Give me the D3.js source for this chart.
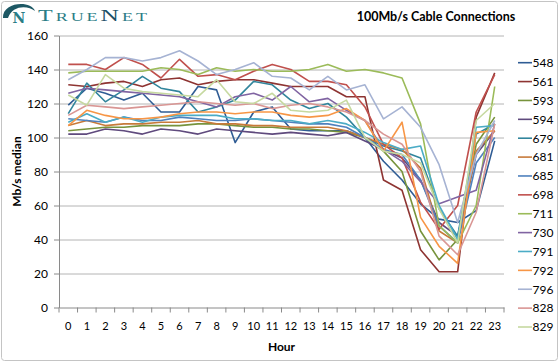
<!DOCTYPE html>
<html>
  <head>
    <meta charset="utf-8">
    <title>100Mb/s Cable Connections</title>
    <script src="https://cdn.jsdelivr.net/npm/d3@7"></script>
    <style>
      body { margin: 0; background: #fff; }
      svg { display: block; font-family: Lato, "Open Sans", sans-serif; }
      .grid line { stroke: #b4b4b4; }
      .grid .domain { display: none; }
      .axis path, .axis line { stroke: #8a8a8a; }
      .axis text { fill: #000; font-size: 11.5px; font-family: Lato, sans-serif; }
      .series { fill: none; stroke-width: 1.6; stroke-linejoin: round; }
      .legend text { font-size: 12px; fill: #000; }
    </style>
  </head>
  <body>
    <svg id="chart" width="560" height="363"></svg>
    <script>
      // data
      hours = [0, 1, 2, 3, 4, 5, 6, 7, 8, 9, 10, 11, 12, 13, 14, 15, 16, 17, 18, 19, 20, 21, 22, 23];
      yTicks = [0, 20, 40, 60, 80, 100, 120, 140, 160];
      names = ["548", "561", "593", "594", "679", "681", "685", "698", "711", "730", "791", "792", "796", "828", "829"];
      colours = ["#2f5c94", "#8e3432", "#77933c", "#5f4a7d", "#31859c", "#c77a3a", "#4f81bd", "#c0504d",
        "#9bbb59", "#8064a2", "#4bacc6", "#f79646", "#a6b3d3", "#d99694", "#c6d9a0"];
      v548 = [119, 129, 126, 122, 126, 115, 115, 130, 128, 97, 115, 118, 105, 104, 104, 104, 100, 86, 75, 61, 52, 50, 57, 98];
      v561 = [131, 130, 132, 133, 130, 134, 135, 131, 133, 134, 134, 132, 130, 130, 130, 124, 124, 75, 69, 34, 21, 21, 112, 138];
      v593 = [104, 105, 106, 106, 107, 107, 107, 108, 108, 107, 106, 106, 105, 105, 104, 103, 100, 92, 80, 45, 28, 40, 96, 112];
      v594 = [102, 102, 105, 104, 102, 105, 104, 102, 105, 104, 103, 102, 103, 102, 101, 103, 98, 93, 88, 75, 50, 42, 90, 104];
      v679 = [114, 132, 121, 128, 136, 129, 127, 115, 118, 122, 133, 131, 122, 117, 120, 112, 100, 95, 92, 88, 58, 42, 102, 108];
      v681 = [107, 110, 107, 108, 108, 109, 109, 110, 108, 108, 107, 107, 106, 106, 106, 104, 100, 96, 93, 82, 45, 38, 92, 104];
      v685 = [111, 110, 109, 112, 110, 110, 112, 111, 110, 110, 111, 110, 109, 108, 108, 106, 100, 93, 90, 75, 48, 38, 85, 100];
      v698 = [143, 143, 140, 147, 143, 135, 146, 136, 137, 134, 139, 143, 140, 133, 133, 131, 118, 96, 88, 62, 46, 60, 115, 137];
      v711 = [138, 139, 139, 139, 139, 141, 140, 137, 141, 139, 140, 139, 139, 140, 143, 139, 140, 138, 135, 108, 48, 38, 60, 130];
      v730 = [126, 129, 128, 127, 126, 125, 124, 121, 118, 124, 126, 122, 130, 121, 123, 116, 110, 93, 86, 74, 61, 65, 69, 108];
      v791 = [109, 114, 109, 112, 109, 112, 113, 113, 113, 111, 111, 110, 110, 108, 110, 108, 103, 97, 93, 95, 60, 40, 106, 107];
      v792 = [107, 116, 113, 111, 111, 112, 114, 115, 115, 114, 115, 115, 113, 112, 113, 117, 110, 92, 109, 53, 36, 26, 103, 104];
      v796 = [134, 140, 147, 147, 145, 147, 151, 145, 137, 140, 144, 136, 135, 128, 136, 128, 131, 111, 118, 106, 84, 50, 90, 110];
      v828 = [113, 119, 118, 117, 118, 119, 120, 121, 120, 119, 120, 117, 119, 120, 118, 115, 110, 102, 96, 80, 42, 31, 56, 108];
      v829 = [125, 119, 137, 129, 127, 126, 125, 124, 134, 121, 120, 126, 116, 115, 116, 122, 100, 92, 90, 85, 58, 38, 110, 120];
      allValues = [v548, v561, v593, v594, v679, v681, v685, v698, v711, v730, v791, v792, v796, v828, v829];

      series = names.map(function(n, i) {
        return { name: n, colour: colours[i], values: allValues[i] };
      });

      chart = d3.select("#chart");
      margin = { top: 35.5, right: 55, bottom: 55.5, left: 59 };
      width = 560;
      height = 363;

      // frame
      chart.append("rect")
        .attr("x", 1.5).attr("y", 1.5)
        .attr("width", 556).attr("height", 359)
        .attr("rx", 3)
        .attr("fill", "#fff")
        .attr("stroke", "#c4c4c4");

      // scales
      x = d3.scaleBand()
        .domain(hours)
        .range([margin.left, width - margin.right - 1]);
      y = d3.scaleLinear()
        .domain([0, 160])
        .range([height - margin.bottom, margin.top]);

      // gridlines
      chart.append("g")
        .attr("class", "grid")
        .attr("transform", "translate(" + margin.left + ",0)")
        .call(d3.axisLeft(y).tickValues(yTicks.slice(1)).tickSize(margin.left - x.range()[1]).tickFormat(""));

      // y axis
      chart.append("g")
        .attr("class", "axis")
        .attr("transform", "translate(" + margin.left + ",0)")
        .call(d3.axisLeft(y).tickValues(yTicks).tickSizeInner(5).tickSizeOuter(0).tickPadding(6))
        .selectAll("text").style("font-size", "12px");

      // x axis, ticks sit between the categories
      xAxisGroup = chart.append("g")
        .attr("class", "axis")
        .attr("transform", "translate(0," + y(0) + ")")
        .call(d3.axisBottom(x).tickSize(0).tickPadding(15));
      xAxisGroup.selectAll(".tick text").style("font-size", "11px");
      xAxisGroup.selectAll(".edge")
        .data(hours.concat([null]))
        .enter().append("line")
          .attr("class", "edge")
          .attr("x1", function(d) { return d === null ? x.range()[1] : x(d); })
          .attr("x2", function(d) { return d === null ? x.range()[1] : x(d); })
          .attr("y1", 0)
          .attr("y2", 5);

      // lines
      line = d3.line()
        .x(function(d, i) { return x(hours[i]) + x.bandwidth() / 2; })
        .y(function(d) { return y(d); });
      chart.append("g")
        .selectAll(".series")
          .data(series)
        .enter().append("path")
          .attr("class", "series")
          .attr("stroke", function(d) { return d.colour; })
          .attr("d", function(d) { return line(d.values); });

      // legend
      ly = d3.scalePoint().domain(names).range([62.7, 327]);
      legend = chart.append("g").attr("class", "legend")
        .selectAll("g")
          .data(series)
        .enter().append("g")
          .attr("transform", function(d) { return "translate(518," + ly(d.name) + ")"; });
      legend.append("line")
        .attr("x1", 0).attr("x2", 14)
        .attr("stroke", function(d) { return d.colour; })
        .attr("stroke-width", 1.6);
      legend.append("text")
        .attr("x", 14.5)
        .attr("dy", "0.36em")
        .text(function(d) { return d.name; });

      // titles
      chart.append("text")
        .attr("x", 436).attr("y", 21)
        .attr("text-anchor", "middle")
        .style("font-weight", "bold")
        .style("font-size", "12.5px")
        .text("100Mb/s Cable Connections");
      chart.append("text")
        .attr("x", (x.range()[0] + x.range()[1]) / 2).attr("y", 351)
        .attr("text-anchor", "middle")
        .style("font-weight", "bold")
        .style("font-size", "12px")
        .text("Hour");
      chart.append("text")
        .attr("transform", "translate(21," + (y(0) + y(160)) / 2 + ") rotate(-90)")
        .attr("text-anchor", "middle")
        .style("font-weight", "bold")
        .style("font-size", "12px")
        .text("Mb/s median");

      // logo
      logo = chart.append("g");
      logo.append("path")
        .attr("d", "M3,18 C2,2 31,0 35,11 C28,5 12,5 8,18 Z")
        .attr("fill", "#1d5864");
      logo.append("text")
        .attr("x", 19).attr("y", 23)
        .attr("text-anchor", "middle")
        .style("font-family", "'DejaVu Serif', serif")
        .style("font-weight", "bold")
        .style("font-size", "14px")
        .attr("fill", "#2b7d86")
        .text("N");
      brand = logo.append("text")
        .attr("x", 38).attr("y", 21)
        .attr("textLength", 112)
        .attr("lengthAdjust", "spacingAndGlyphs")
        .style("font-family", "'Liberation Serif', serif")
        .style("letter-spacing", "2px")
        .attr("fill", "#2b7d86");
      brand.append("tspan").style("font-size", "16px").text("T");
      brand.append("tspan").style("font-size", "12px").text("RUE");
      brand.append("tspan").style("font-size", "17px").attr("fill", "#1d4f66").text("N");
      brand.append("tspan").style("font-size", "12px").text("ET");
    </script>
  </body>
</html>
